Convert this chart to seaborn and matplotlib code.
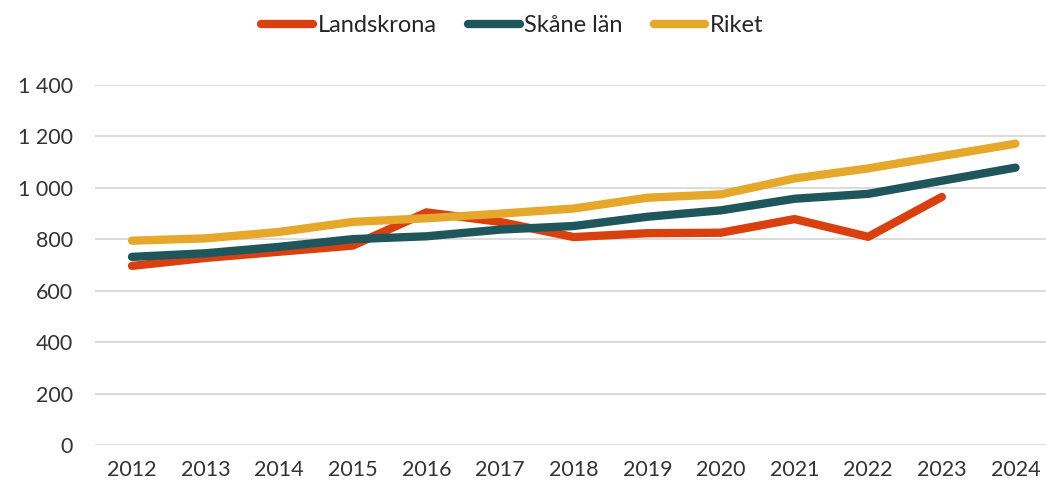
import pandas as pd
import numpy as np
import matplotlib
matplotlib.use("Agg")
import matplotlib.pyplot as plt
import seaborn as sns

# =========================
# DATA
# =========================
years = [2012, 2013, 2014, 2015, 2016, 2017, 2018, 2019, 2020, 2021, 2022, 2023, 2024]
landskrona = [697, 728, 752, 776, 905, 868, 809, 824, 826, 879, 810, 965, np.nan]
skane = [732, 746, 771, 801, 812, 838, 852, 888, 913, 958, 977, 1028, 1079]
riket = [795, 804, 829, 868, 882, 900, 920, 962, 975, 1037, 1076, 1124, 1172]

series_names = ["Landskrona", "Skåne län", "Riket"]
colors = ["#D8400F", "#1F565B", "#E5A82A"]
yticks = [0, 200, 400, 600, 800, 1000, 1200, 1400]

df = pd.DataFrame({"year": years * 3,
                   "serie": np.repeat(series_names, len(years)),
                   "value": landskrona + skane + riket})

# =========================
# PLOT
# =========================
sns.set_style("white")
plt.rcParams["font.family"] = ["Lato", "DejaVu Sans"]

fig = plt.figure(figsize=(10.46, 4.86), dpi=100)
ax = fig.add_axes([0.091, 0.084, 0.915, 0.741])

sns.lineplot(data=df, x="year", y="value", hue="serie", palette=colors,
             linewidth=6, ax=ax, legend=True)
for line in ax.get_lines():
    line.set_solid_capstyle("round")

ax.set_xlim(2011.5, 2024.5)
ax.set_ylim(0, 1400)
ax.set_xticks(years)
ax.set_xticklabels([str(y) for y in years], fontsize=15.5, color="#333333")
ax.set_yticks(yticks)
ax.set_yticklabels([f"{v:,}".replace(",", " ") for v in yticks], fontsize=15.5, color="#333333")
ax.grid(axis="y", color="#D9D9D9", linewidth=1.3)
ax.set_axisbelow(True)
for s in ax.spines.values():
    s.set_visible(False)
ax.tick_params(axis="x", length=0, pad=11)
ax.tick_params(axis="y", length=0, pad=16)
ax.set_xlabel("")
ax.set_ylabel("")

handles, labels = ax.get_legend_handles_labels()
for h in handles:
    h.set_solid_capstyle("round")
leg = ax.legend(handles, labels, loc="center", bbox_to_anchor=(0.436, 1.165), ncol=3,
                frameon=False, fontsize=17, handlelength=2.2, handletextpad=0.2,
                columnspacing=1.3)
for t in leg.get_texts():
    t.set_color("#262626")

plt.savefig("out.png", dpi=100)
